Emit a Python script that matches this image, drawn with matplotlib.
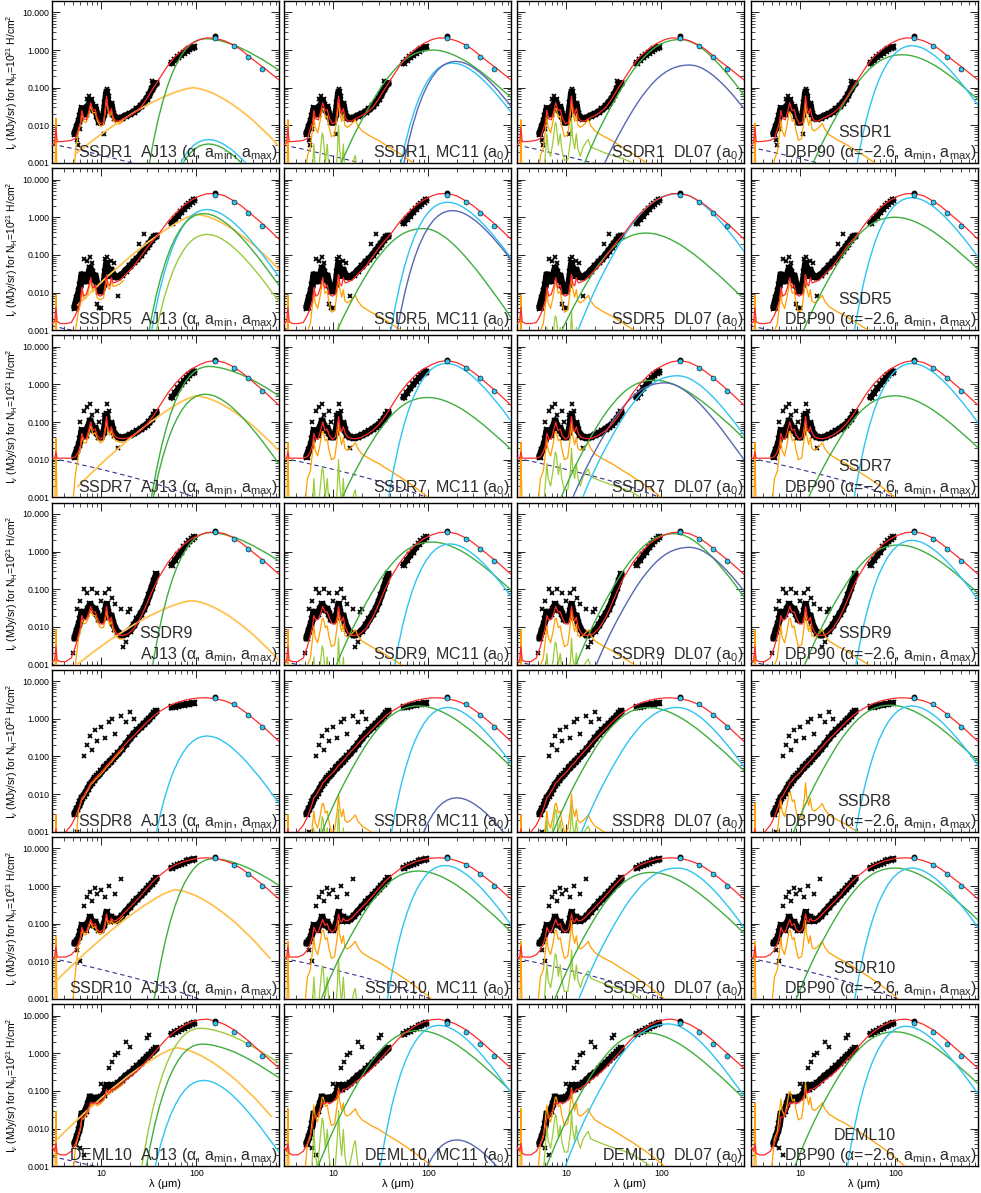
import numpy as np
import matplotlib
matplotlib.use('Agg')
import matplotlib.pyplot as plt
from matplotlib.ticker import FixedLocator, FixedFormatter, NullFormatter

plt.rcParams['font.family'] = ['Liberation Sans', 'DejaVu Sans']
plt.rcParams['mathtext.fontset'] = 'custom'
plt.rcParams['mathtext.rm'] = 'Liberation Sans'
plt.rcParams['mathtext.it'] = 'Liberation Sans:italic'
plt.rcParams['mathtext.bf'] = 'Liberation Sans:bold'

# ---------------- labels ----------------
ROWS = ['SSDR1', 'SSDR5', 'SSDR7', 'SSDR9', 'SSDR8', 'SSDR10', 'DEML10']
TITLES = ['AJ13 (α, a$_{\\rm min}$, a$_{\\rm max}$)', 'MC11 (a$_0$)', 'DL07 (a$_0$)',
          'DBP90 (α=−2.6, a$_{\\rm min}$, a$_{\\rm max}$)']
YTICKS = [0.001, 0.01, 0.1, 1.0, 10.0]
YTICKLABELS = ['0.001', '0.010', '0.100', '1.000', '10.000']
XTICKS = [10, 100]
XTICKLABELS = ['10', '100']

# ---------------- observations (per row) ----------------
SPEC_WL = [5.2, 5.5, 5.8, 6.0, 6.2, 6.5, 6.8, 7.2, 7.6, 7.9, 8.3, 8.6, 9.0, 9.5, 10.0, 10.6, 11.0, 11.3,
           11.7, 12.2, 12.7, 13.2, 14.0, 15.0, 16.5, 18.0, 20.0, 22.0, 24.0, 26.0, 28.0, 30.0, 32.0, 34.0, 36.0, 38.0]
SPEC = [
    [0.006, 0.009, 0.013, 0.018, 0.028, 0.02, 0.02, 0.03, 0.045, 0.035, 0.025, 0.03, 0.018, 0.012, 0.012, 0.02, 0.04, 0.075,
     0.04, 0.025, 0.035, 0.02, 0.016, 0.015, 0.016, 0.018, 0.02, 0.023, 0.027, 0.032, 0.04, 0.05, 0.065, 0.09, 0.12, 0.13],
    [0.004, 0.007, 0.011, 0.016, 0.03, 0.022, 0.02, 0.028, 0.045, 0.035, 0.022, 0.028, 0.016, 0.011, 0.011, 0.017, 0.035, 0.06,
     0.035, 0.028, 0.04, 0.03, 0.026, 0.026, 0.03, 0.038, 0.05, 0.065, 0.08, 0.1, 0.13, 0.16, 0.2, 0.25, 0.3, 0.32],
    [0.012, 0.018, 0.025, 0.035, 0.06, 0.045, 0.045, 0.07, 0.11, 0.08, 0.06, 0.07, 0.05, 0.04, 0.04, 0.055, 0.1, 0.16,
     0.09, 0.07, 0.09, 0.06, 0.045, 0.04, 0.038, 0.04, 0.045, 0.05, 0.058, 0.065, 0.075, 0.085, 0.1, 0.12, 0.15, 0.18],
    [0.005, 0.008, 0.012, 0.016, 0.025, 0.02, 0.022, 0.03, 0.04, 0.032, 0.028, 0.03, 0.022, 0.016, 0.015, 0.018, 0.026, 0.04,
     0.025, 0.018, 0.02, 0.013, 0.009, 0.007, 0.006, 0.0065, 0.008, 0.011, 0.016, 0.022, 0.03, 0.045, 0.07, 0.11, 0.17, 0.25],
    [0.003, 0.004, 0.005, 0.006, 0.008, 0.009, 0.011, 0.014, 0.018, 0.02, 0.024, 0.027, 0.03, 0.034, 0.04, 0.048, 0.053, 0.058,
     0.063, 0.07, 0.078, 0.088, 0.1, 0.12, 0.16, 0.21, 0.3, 0.4, 0.5, 0.6, 0.72, 0.85, 1.0, 1.2, 1.4, 1.6],
    [0.03, 0.035, 0.045, 0.06, 0.09, 0.07, 0.07, 0.1, 0.15, 0.11, 0.09, 0.11, 0.08, 0.07, 0.07, 0.09, 0.13, 0.2,
     0.14, 0.12, 0.15, 0.13, 0.12, 0.13, 0.16, 0.21, 0.28, 0.37, 0.46, 0.56, 0.68, 0.82, 0.98, 1.15, 1.35, 1.6],
    [0.004, 0.006, 0.009, 0.013, 0.025, 0.025, 0.03, 0.045, 0.07, 0.06, 0.06, 0.065, 0.06, 0.065, 0.07, 0.08, 0.1, 0.14,
     0.11, 0.11, 0.14, 0.13, 0.14, 0.16, 0.2, 0.25, 0.3, 0.37, 0.45, 0.55, 0.65, 0.78, 0.9, 1.05, 1.2, 1.35],
]
OUT_WL = [
    [5.5, 5.7, 6.0, 7.0, 7.4, 8.0, 10.5, 11.3, 12.0, 13.0, 34, 36],
    [5.5, 6.0, 6.5, 7.0, 7.5, 8.0, 9.0, 9.5, 10.0, 11.0, 11.5, 12.5, 13.5, 15, 25, 28],
    [6.0, 6.5, 7.0, 7.5, 8.0, 9.0, 9.5, 10.5, 11.5, 12.0, 13.0, 15.0],
    [5.0, 5.5, 6.0, 6.5, 7.0, 8.0, 9.0, 10.0, 11.0, 12.0, 13.0, 14.0, 16.0, 17.0, 18.0, 19.0, 20.0],
    [5.5, 6.5, 7.0, 7.5, 8.0, 8.5, 9.0, 10.0, 11.0, 12.0, 13.0, 14.0, 16.0, 18.0, 20.0, 22.0],
    [5.5, 6.0, 6.5, 7.0, 7.5, 8.0, 8.5, 9.0, 10.0, 11.0, 12.0, 14.0, 16.0],
    [6.0, 6.5, 10.0, 12.0, 13.0, 14.0, 15.0, 18.0, 20.0, 30.0, 32.0],
]
OUT_V = [
    [0.004, 0.003, 0.008, 0.05, 0.06, 0.05, 0.006, 0.09, 0.06, 0.04, 0.15, 0.1],
    [0.004, 0.015, 0.08, 0.07, 0.09, 0.06, 0.005, 0.004, 0.004, 0.08, 0.09, 0.07, 0.06, 0.008, 0.2, 0.35],
    [0.1, 0.2, 0.25, 0.3, 0.15, 0.2, 0.1, 0.15, 0.3, 0.2, 0.1, 0.02],
    [0.002, 0.03, 0.05, 0.1, 0.08, 0.1, 0.08, 0.05, 0.08, 0.1, 0.06, 0.04, 0.03, 0.003, 0.004, 0.025, 0.03],
    [0.001, 0.1, 0.2, 0.35, 0.15, 0.5, 0.25, 0.6, 0.3, 0.8, 1.0, 0.4, 1.2, 0.8, 1.5, 1.0],
    [0.02, 0.01, 0.3, 0.5, 0.7, 0.4, 0.9, 0.6, 0.8, 0.5, 1.0, 0.6, 1.5],
    [0.003, 0.002, 0.15, 0.4, 0.6, 0.9, 1.0, 2.0, 1.5, 2.5, 3.0],
]
SED_WL = [55, 60, 65, 70, 75, 80, 85, 90, 95]
SED = [
    [0.45, 0.55, 0.65, 0.75, 0.85, 0.95, 1.05, 1.15, 1.2],
    [0.7, 0.9, 1.1, 1.4, 1.7, 2.0, 2.3, 2.6, 2.9],
    [0.45, 0.6, 0.8, 1.0, 1.25, 1.5, 1.75, 2.0, 2.2],
    [0.45, 0.6, 0.8, 1.0, 1.3, 1.6, 1.9, 2.1, 2.4],
    [2.0, 2.1, 2.2, 2.3, 2.35, 2.4, 2.5, 2.55, 2.6],
    [3.0, 3.3, 3.6, 3.9, 4.2, 4.5, 4.8, 5.0, 5.2],
    [3.2, 3.6, 4.0, 4.4, 4.8, 5.2, 5.6, 6.0, 6.4],
]
MIPS160 = [2.3, 4.4, 4.5, 3.5, 3.7, 6.0, 7.0]
HER_WL = [160, 250, 350, 500]
HER = [[2.1, 1.3, 0.65, 0.32], [4.0, 2.5, 1.3, 0.6], [4.3, 2.8, 1.45, 0.65], [3.3, 2.2, 1.2, 0.55],
       [3.5, 2.4, 1.3, 0.6], [5.5, 3.7, 2.1, 1.0], [6.4, 3.6, 1.75, 0.85]]

# ---------------- total model (red), per row ----------------
RED_WL = [3.0, 3.2, 3.3, 3.4, 3.7, 4.2, 4.8, 5.3, 5.7, 6.0, 6.2, 6.5, 6.9, 7.3, 7.7, 8.1, 8.6, 9.0, 9.7, 10.5,
          11.0, 11.3, 11.7, 12.2, 12.7, 13.3, 14.2, 15.5, 17, 19, 22, 26, 30, 35, 40, 50, 60, 75, 90, 110,
          130, 160, 200, 250, 300, 350, 450, 550, 750]
RED = [
    [0.003, 0.0035, 0.009, 0.0037, 0.0037, 0.0038, 0.004, 0.0045, 0.008, 0.012, 0.025, 0.015, 0.014, 0.022, 0.04, 0.025,
     0.026, 0.016, 0.011, 0.012, 0.03, 0.06, 0.03, 0.02, 0.028, 0.016, 0.013, 0.013, 0.015, 0.017, 0.021, 0.03, 0.05,
     0.095, 0.16, 0.38, 0.68, 1.1, 1.5, 1.9, 2.1, 2.05, 1.75, 1.35, 1.0, 0.72, 0.44, 0.3, 0.16],
    [0.0015, 0.0017, 0.004, 0.0017, 0.0015, 0.0015, 0.0016, 0.0025, 0.004, 0.006, 0.014, 0.008, 0.009, 0.014, 0.025, 0.013,
     0.016, 0.009, 0.008, 0.009, 0.018, 0.03, 0.017, 0.015, 0.025, 0.018, 0.019, 0.021, 0.026, 0.035, 0.05, 0.09, 0.15,
     0.24, 0.35, 0.75, 1.25, 2.1, 2.9, 3.7, 4.2, 4.25, 3.7, 2.7, 2.0, 1.45, 0.85, 0.55, 0.26],
    [0.011, 0.011, 0.016, 0.011, 0.011, 0.011, 0.011, 0.012, 0.016, 0.025, 0.05, 0.035, 0.035, 0.06, 0.1, 0.06,
     0.065, 0.045, 0.035, 0.04, 0.08, 0.14, 0.07, 0.055, 0.075, 0.05, 0.04, 0.037, 0.036, 0.038, 0.045, 0.06, 0.085,
     0.14, 0.24, 0.58, 1.05, 1.85, 2.6, 3.4, 4.0, 4.3, 3.8, 2.9, 2.1, 1.55, 0.9, 0.58, 0.28],
    [0.0012, 0.0013, 0.003, 0.0013, 0.0012, 0.0012, 0.0015, 0.003, 0.006, 0.01, 0.02, 0.015, 0.016, 0.022, 0.035, 0.025,
     0.025, 0.018, 0.012, 0.012, 0.02, 0.035, 0.02, 0.014, 0.018, 0.01, 0.007, 0.006, 0.006, 0.0065, 0.009, 0.018, 0.04,
     0.1, 0.2, 0.5, 0.9, 1.6, 2.2, 2.8, 3.2, 3.3, 3.0, 2.3, 1.7, 1.25, 0.75, 0.5, 0.25],
    [0.0008, 0.0008, 0.0012, 0.0008, 0.0008, 0.001, 0.0015, 0.0025, 0.004, 0.006, 0.008, 0.009, 0.012, 0.015, 0.02, 0.022,
     0.027, 0.03, 0.036, 0.045, 0.052, 0.058, 0.062, 0.07, 0.078, 0.09, 0.11, 0.14, 0.18, 0.25, 0.36, 0.55, 0.8,
     1.15, 1.5, 2.1, 2.6, 3.1, 3.4, 3.6, 3.6, 3.4, 3.0, 2.4, 1.8, 1.35, 0.8, 0.52, 0.25],
    [0.012, 0.013, 0.025, 0.013, 0.013, 0.013, 0.015, 0.02, 0.03, 0.045, 0.08, 0.06, 0.06, 0.09, 0.13, 0.09,
     0.1, 0.07, 0.06, 0.07, 0.12, 0.18, 0.12, 0.11, 0.14, 0.12, 0.12, 0.14, 0.18, 0.24, 0.35, 0.55, 0.85,
     1.3, 1.8, 2.8, 3.6, 4.5, 5.1, 5.5, 5.6, 5.4, 4.7, 3.8, 2.9, 2.2, 1.35, 0.9, 0.45],
    [0.0032, 0.0025, 0.004, 0.0022, 0.002, 0.002, 0.0025, 0.004, 0.007, 0.011, 0.02, 0.02, 0.025, 0.035, 0.05, 0.045,
     0.05, 0.045, 0.05, 0.06, 0.08, 0.11, 0.09, 0.09, 0.11, 0.11, 0.12, 0.14, 0.17, 0.21, 0.28, 0.42, 0.62,
     0.95, 1.4, 2.6, 3.8, 5.5, 6.8, 7.8, 8.0, 7.2, 5.8, 4.2, 3.0, 2.2, 1.25, 0.8, 0.4],
]
# AJ13 small-grain (orange) curve follows the total model between these wavelengths, at this fraction
AJ_BAND = (5.7, 17.0)
AJ_FRAC = [0.85, 0.8, 0.8, 0.8, 0.9, 0.85, 0.9]

# ---------------- component shape templates (log10, relative to peak) ----------------
OFFSETS = np.round(np.arange(-1.25, 1.0001, 0.05), 2)   # log10(lambda / lambda_peak)
T_MBB = [-9, -9, -9, -9, -9, -9, -9, -9, -9,
         -7.45, -6.22, -5.15, -4.23, -3.43, -2.75, -2.16, -1.67, -1.26, -0.92, -0.65, -0.43, -0.26, -0.14, -0.06, -0.015,
         0.0,
         -0.014, -0.05, -0.11, -0.19, -0.28, -0.39, -0.51, -0.64, -0.78, -0.93, -1.08, -1.24, -1.41, -1.58, -1.75,
         -1.92, -2.10, -2.29, -2.47, -2.66]
T_BROAD = [-5.0, -4.6, -4.2, -3.85, -3.5, -3.2, -2.9, -2.62, -2.35, -2.1, -1.86, -1.63, -1.41, -1.2, -1.0,
           -0.82, -0.66, -0.51, -0.38, -0.27, -0.18, -0.11, -0.06, -0.025, -0.006,
           0.0,
           -0.008, -0.03, -0.065, -0.11, -0.165, -0.23, -0.3, -0.38, -0.47, -0.56, -0.66, -0.76, -0.87, -0.98, -1.09,
           -1.2, -1.32, -1.44, -1.56, -1.68]
T_AJ = T_MBB[:25] + [0.0, -0.006, -0.025, -0.05, -0.085, -0.125, -0.17, -0.22, -0.28, -0.34, -0.41, -0.48, -0.55,
                     -0.63, -0.71, -0.79, -0.87, -0.95, -1.03, -1.11, -1.2]
T_DL = T_BROAD[:25] + T_MBB[25:]
T_VSG = [-1.78, -1.67, -1.58, -1.48, -1.38, -1.29, -1.20, -1.11, -1.02, -0.94, -0.86, -0.78, -0.70, -0.62, -0.55,
         -0.48, -0.41, -0.35, -0.29, -0.23, -0.18, -0.13, -0.09, -0.05, -0.02,
         0.0,
         -0.02, -0.05, -0.09, -0.14, -0.20, -0.27, -0.34, -0.42, -0.51, -0.60, -0.70, -0.80, -0.91, -1.03, -1.15,
         -1.27, -1.40, -1.54, -1.68, -1.82]
T_VSG2 = [-2.41, -2.28, -2.16, -2.04, -1.92, -1.80, -1.68, -1.57, -1.46, -1.35, -1.24, -1.13, -1.03, -0.93, -0.83,
          -0.73, -0.64, -0.55, -0.46, -0.38, -0.30, -0.22, -0.15, -0.09, -0.04] + T_VSG[25:]
TEMPLATES = {'mbb': T_MBB, 'broad': T_BROAD, 'aj': T_AJ, 'dl': T_DL, 'vsg': T_VSG, 'vsg2': T_VSG2}

PAH_WL = [3.0, 3.2, 3.25, 3.3, 3.35, 3.45, 3.6, 4.0, 4.5, 5.0, 5.3, 5.7, 6.0, 6.2, 6.4, 6.8, 7.2, 7.6, 7.8, 8.2,
          8.6, 8.9, 9.5, 10.3, 11.0, 11.3, 11.6, 12.2, 12.7, 13.2, 14.0, 15.0, 16.4, 17.0, 18.0, 20.0, 25.0, 30.0,
          40.0, 50.0, 70.0, 100.0, 150.0, 250.0, 400.0, 750.0]
PAH_T = [-4.0, -3.0, -1.6, -0.55, -1.6, -3.0, -4.0, -4.0, -3.5, -2.2, -1.5, -1.3, -0.8, -0.45, -0.75, -0.9, -0.6,
         -0.25, -0.25, -0.5, -0.45, -0.7, -1.0, -0.95, -0.4, 0.0, -0.35, -0.6, -0.4, -0.7, -0.75, -0.7, -0.6, -0.55,
         -0.7, -0.85, -1.0, -1.1, -1.3, -1.45, -1.7, -2.0, -2.4, -2.9, -3.4, -4.0]
YG_WL = [5.5, 6.0, 6.2, 6.4, 6.8, 7.2, 7.6, 7.8, 8.2, 8.6, 8.9, 9.5, 10.3, 11.0, 11.3, 11.6, 12.2, 12.7, 13.2, 14.0,
         15.0, 16.4, 17.0, 18.0, 20.0, 23.0, 26.0]
YG_T = [-3.0, -1.2, -0.5, -1.1, -1.6, -0.8, -0.2, -0.3, -1.0, -0.5, -1.1, -1.8, -1.7, -0.7, 0.0, -0.6, -1.2, -0.5,
        -1.2, -1.6, -1.4, -0.9, -0.8, -1.4, -1.9, -2.5, -3.2]
YGDL_WL = [5.5, 6.0, 6.2, 6.4, 6.8, 7.2, 7.6, 7.8, 8.2, 8.6, 8.9, 9.5, 10.3, 11.0, 11.3, 11.6, 12.2, 12.7, 13.2, 14.0,
           15.0, 16.4, 17.0, 18.0, 20.0, 25.0, 30.0, 40.0, 50.0, 70.0, 100.0]
YGDL_T = [-2.2, -0.9, -0.4, -0.8, -1.0, -0.6, -0.1, -0.15, -0.7, -0.4, -0.8, -1.1, -1.1, -0.6, 0.0, -0.5, -0.8, -0.4,
          -0.8, -1.0, -0.75, -0.6, -0.55, -0.75, -0.8, -0.9, -0.97, -1.07, -1.17, -1.4, -1.7]
STAR_WL = [3.0, 4.0, 5.0, 6.0, 8.0, 10.0, 14.0, 20.0, 30.0, 50.0, 100.0, 200.0]
STAR_T = [0.0, -0.07, -0.12, -0.17, -0.24, -0.3, -0.39, -0.49, -0.61, -0.78, -1.05, -1.35]

# ---------------- fitted components: (template, colour, lambda_peak, I_peak) ----------------
PAH_AMP = [[0.055, 0.05, 0.05, 0.04], [0.03, 0.03, 0.03, 0.03], [0.13, 0.1, 0.1, 0.1], [0.03, 0.03, 0.03, 0.03],
           [0.01, 0.01, 0.01, 0.02], [0.16, 0.12, 0.12, 0.12], [0.1, 0.12, 0.12, 0.17]]
YG_AMP = [[0, 0.01, 0.015, 0], [0, 0.0015, 0.003, 0], [0, 0.01, 0.02, 0], [0, 0.005, 0.005, 0],
          [0, 0.004, 0.005, 0], [0, 0.012, 0.02, 0], [0, 0.03, 0.03, 0]]
STAR_AMP = [[0.0032, 0.003, 0.003, 0.0026], [0.0013, 0.0011, 0.001, 0.0013], [0.011, 0.011, 0.011, 0.011],
            [0.001, 0.0012, 0.0012, 0.0012], [0, 0, 0, 0], [0.012, 0.012, 0.012, 0.012],
            [0.0018, 0, 0, 0]]
AJ13_PARTS = [
    [('vsg', 'orange_lt', 93, 0.10), ('aj', 'green', 125, 2.0), ('mbb', 'cyan', 135, 0.0042), ('mbb', 'green', 135, 0.0032)],
    [('vsg2', 'orange_lt', 100, 1.2), ('mbb', 'cyan', 130, 1.6), ('mbb', 'green', 120, 1.25), ('mbb', 'yg', 130, 0.35)],
    [('vsg2', 'orange_lt', 100, 0.5), ('aj', 'green', 135, 3.0), ('mbb', 'green', 125, 0.55)],
    [('vsg', 'orange_lt', 90, 0.05), ('aj', 'green', 140, 3.2)],
    [('mbb', 'cyan', 130, 0.35)],
    [('vsg2', 'orange_lt', 60, 0.8), ('aj', 'green', 150, 5.3)],
    [('vsg2', 'orange_lt', 62, 1.4), ('aj', 'yg', 110, 4.6), ('aj', 'green', 115, 1.75), ('mbb', 'cyan', 120, 0.19)],
]
MC11_PARTS = [
    [('broad', 'green', 112, 1.0), ('mbb', 'cyan', 180, 0.45), ('mbb', 'navy', 195, 0.5)],
    [('dl', 'green', 90, 0.5), ('mbb', 'cyan', 160, 2.5), ('mbb', 'navy', 180, 1.5)],
    [('broad', 'green', 100, 0.45), ('mbb', 'cyan', 155, 3.6)],
    [('broad', 'green', 110, 1.8), ('mbb', 'cyan', 170, 1.6)],
    [('broad', 'green', 80, 2.2), ('mbb', 'cyan', 160, 2.0), ('mbb', 'navy', 200, 0.008)],
    [('broad', 'green', 80, 2.5), ('mbb', 'cyan', 150, 3.5)],
    [('broad', 'green', 80, 4.0), ('mbb', 'cyan', 130, 5.5), ('mbb', 'navy', 200, 0.005)],
]
DL07_PARTS = [
    [('dl', 'green', 160, 1.9), ('dl', 'navy', 200, 0.4)],
    [('broad', 'green', 70, 0.38), ('dl', 'cyan', 155, 4.2)],
    [('broad', 'green', 85, 1.3), ('dl', 'cyan', 150, 1.7), ('dl', 'navy', 110, 1.1)],
    [('dl', 'green', 140, 3.0), ('dl', 'navy', 200, 1.3)],
    [('broad', 'green', 75, 2.0), ('dl', 'cyan', 150, 2.0)],
    [('broad', 'green', 80, 2.3), ('dl', 'cyan', 150, 3.0)],
    [('broad', 'green', 70, 3.5), ('dl', 'cyan', 120, 6.0)],
]
DBP90_PARTS = [
    [('broad', 'green', 120, 0.75), ('mbb', 'cyan', 150, 1.3)],
    [('broad', 'green', 100, 1.0), ('mbb', 'cyan', 150, 3.3)],
    [('broad', 'green', 100, 0.5), ('mbb', 'cyan', 150, 3.6)],
    [('broad', 'green', 110, 1.5), ('mbb', 'cyan', 150, 2.0)],
    [('broad', 'green', 90, 2.3), ('mbb', 'cyan', 150, 2.2)],
    [('broad', 'green', 100, 3.0), ('mbb', 'cyan', 150, 3.0)],
    [('broad', 'green', 100, 3.7), ('mbb', 'cyan', 130, 5.2)],
]
PARTS = [AJ13_PARTS, MC11_PARTS, DL07_PARTS, DBP90_PARTS]

COL = {'red': '#FF2A2A', 'orange': '#FFA000', 'orange_lt': '#FFC24F', 'yg': '#9BCB3B',
       'green': '#3FAE3F', 'cyan': '#2EC4F2', 'navy': '#5767B0', 'star': '#3A2E8E'}

# ---------------- layout ----------------
W_PX, H_PX = 981, 1193
LEFTS = [52, 284, 517, 751]
AX_W = 227
AX_H = 162
ROW_PITCH = 167.2

fig = plt.figure(figsize=(W_PX / 100, H_PX / 100), dpi=100)
TXT = '#2b2b2b'

for r in range(7):
    top = 1 + ROW_PITCH * r
    for c in range(4):
        ax = fig.add_axes([LEFTS[c] / W_PX, 1 - (top + AX_H) / H_PX, AX_W / W_PX, AX_H / H_PX])
        ax.set_xscale('log')
        ax.set_yscale('log')

        # observations
        ax.plot(SPEC_WL, SPEC[r], color='k', lw=5.0, solid_capstyle='round', zorder=1)
        ax.plot(SPEC_WL, SPEC[r], 'x', color='k', ms=4.0, mew=1.4, zorder=1)
        ax.plot(OUT_WL[r], OUT_V[r], 'x', color='k', ms=3.4, mew=1.3, zorder=1)
        ax.plot(SED_WL, SED[r], color='k', lw=4.0, zorder=1)
        ax.plot(SED_WL, SED[r], 'x', color='k', ms=3.8, mew=1.3, zorder=1)

        # components
        if STAR_AMP[r][c] > 0:
            ax.plot(STAR_WL, STAR_AMP[r][c] * 10 ** np.array(STAR_T), color=COL['star'], lw=0.8,
                    ls=(0, (4, 3)), zorder=2)
        if PAH_AMP[r][c] > 0:
            pah_y = PAH_AMP[r][c] * 10 ** np.array(PAH_T)
            if c == 0:
                xs = [w for w in PAH_WL if w < AJ_BAND[0]]
                ys = list(pah_y[:len(xs)])
                for w, v in zip(RED_WL, RED[r]):
                    if AJ_BAND[0] <= w <= AJ_BAND[1]:
                        xs.append(w)
                        ys.append(v * AJ_FRAC[r])
                ax.plot(xs, ys, color=COL['orange'], lw=0.9, zorder=3)
            else:
                ax.plot(PAH_WL, pah_y, color=COL['orange'], lw=0.9, zorder=3)
        if YG_AMP[r][c] > 0:
            if c == 1:
                ax.plot(YG_WL, YG_AMP[r][c] * 10 ** np.array(YG_T), color=COL['yg'], lw=0.9, zorder=3)
            else:
                ax.plot(YGDL_WL, YG_AMP[r][c] * 10 ** np.array(YGDL_T), color=COL['yg'], lw=0.9, zorder=3)
        for kind, ck, lpk, ipk in PARTS[c][r]:
            ax.plot(lpk * 10 ** OFFSETS, ipk * 10 ** np.array(TEMPLATES[kind]), color=COL[ck],
                    lw=1.3 if ck == 'orange_lt' else 1.0, zorder=3)

        # total model
        ax.plot(RED_WL, RED[r], color=COL['red'], lw=0.9, zorder=4)

        # photometry
        ax.plot([160], [MIPS160[r]], 'o', color='k', ms=3.2, zorder=5)
        ax.plot(HER_WL, HER[r], 'o', ms=3.6, mfc=COL['cyan'], mec='k', mew=0.4, zorder=6)

        ax.set_xlim(3.0, 750.0)
        ax.set_ylim(0.001, 20.0)

        ax.xaxis.set_major_locator(FixedLocator(XTICKS))
        ax.xaxis.set_minor_locator(FixedLocator([3, 4, 5, 6, 7, 8, 9, 20, 30, 40, 50, 60, 70, 80, 90,
                                                 200, 300, 400, 500, 600, 700]))
        ax.yaxis.set_major_locator(FixedLocator(YTICKS))
        ax.yaxis.set_minor_locator(FixedLocator([m * 10.0 ** e for e in range(-3, 2) for m in range(2, 10)]))
        ax.xaxis.set_minor_formatter(NullFormatter())
        ax.yaxis.set_minor_formatter(NullFormatter())
        if r == 6:
            ax.xaxis.set_major_formatter(FixedFormatter(XTICKLABELS))
            ax.set_xlabel('λ (μm)', fontsize=8, labelpad=1)
        else:
            ax.xaxis.set_major_formatter(NullFormatter())
        if c == 0:
            ax.yaxis.set_major_formatter(FixedFormatter(YTICKLABELS))
            ax.set_ylabel('I$_\\nu$ (MJy/sr) for N$_{\\rm H}$=10$^{21}$ H/cm$^2$', fontsize=7.4, labelpad=2)
        else:
            ax.yaxis.set_major_formatter(NullFormatter())
        ax.tick_params(which='both', direction='in', top=True, right=True, labelsize=6.3, pad=2)
        ax.tick_params(which='major', length=6, width=0.6)
        ax.tick_params(which='minor', length=3, width=0.5)
        for s in ax.spines.values():
            s.set_linewidth(1.0)

        # annotations
        if c == 3 or (c == 0 and r == 3):
            ax.text(0.50, 0.19, ROWS[r], transform=ax.transAxes, ha='center', va='center',
                    fontsize=11.5, color=TXT, zorder=7)
            ax.text(0.995, 0.005, TITLES[c], transform=ax.transAxes, ha='right', va='bottom',
                    fontsize=11.5, color=TXT, zorder=7)
        else:
            ax.text(0.995, 0.005, ROWS[r] + '  ' + TITLES[c], transform=ax.transAxes, ha='right',
                    va='bottom', fontsize=11.5, color=TXT, zorder=7)

fig.savefig('out.png', dpi=100)
